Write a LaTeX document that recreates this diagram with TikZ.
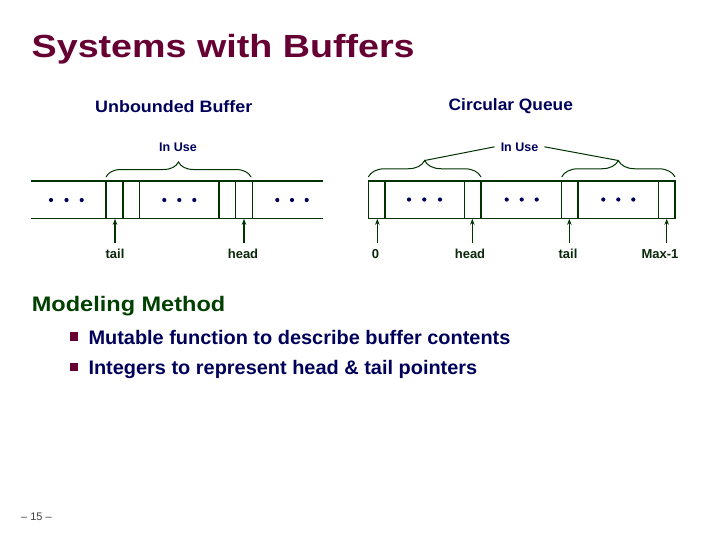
\documentclass[tikz,border=0pt]{standalone}
\usepackage{fontspec}
\usepackage{graphicx}
\setmainfont{Liberation Sans}
\usetikzlibrary{decorations.pathreplacing,arrows.meta}
\definecolor{titleC}{RGB}{102,0,51}
\definecolor{navyC}{RGB}{0,0,90}
\definecolor{greenT}{RGB}{0,64,0}
\definecolor{lineG}{RGB}{0,51,0}
\definecolor{labG}{RGB}{10,40,10}
\newcommand{\tx}[2]{\scalebox{#1}[1]{#2}}
\tikzset{
  txt/.style={inner sep=0pt, anchor=base west},
  buf/.style={draw=lineG, line width=1.1pt},
  thk/.style={draw=lineG, line width=2pt},
  brc/.style={draw=lineG, line width=1pt, decorate, decoration={brace, amplitude=#1}},
  ptr/.style={draw=lineG, line width=1.1pt, -{Stealth[length=6pt,width=4.5pt]}},
  lab/.style={inner sep=0pt, anchor=base, text=labG, font=\fontsize{13}{15}\selectfont\bfseries},
  use/.style={inner sep=6pt, text=navyC, font=\fontsize{12.5}{15}\selectfont\bfseries},
  dot/.style={fill=navyC, draw=none},
  bsq/.style={fill=titleC, draw=none}
}
\begin{document}
\begin{tikzpicture}[x=1pt,y=-1pt]
\fill[white] (0,0) rectangle (719,539);
\useasboundingbox (0,0) rectangle (719,539);

% titles
\node[txt, text=titleC, font=\fontsize{32}{36}\selectfont\bfseries] (title) at (31.5,57.7) {\tx{1.177}{Systems with Buffers}};
\node[txt, text=navyC, font=\fontsize{16.5}{19}\selectfont\bfseries] (ub) at (95,112.6) {\tx{1.085}{Unbounded Buffer}};
\node[txt, text=navyC, font=\fontsize{16.5}{19}\selectfont\bfseries] (cq) at (448.5,110.6) {\tx{1.05}{Circular Queue}};

% ---------- Unbounded buffer ----------
\draw[buf] (31,181) -- (323,181);
\draw[buf] (31,218.3) -- (323,218.3);
\foreach \x in {106,139.3,235.7,252.3} \draw[buf] (\x,181) -- (\x,218.3);
\foreach \x in {122.7,219.3} \draw[thk] (\x,181) -- (\x,218.3);
\foreach \x in {51,66.5,81.7,164.3,179.3,194.3,277.3,292,306.7} \fill[dot] (\x,200) circle (2.1);

\draw[brc=15pt] (106,177) -- (251,177);
\node[use, anchor=base, inner sep=0pt] (inuseL) at (178,151.5) {In Use};

\coordinate (tailP) at (115,218.8);
\coordinate (headP) at (244,218.8);
\node[lab] (tailL) at (115,258.3) {tail};
\node[lab] (headL) at (243,258.3) {head};
\draw[ptr] ([yshift=5.5pt]tailP |- tailL.north) -- (tailP);
\draw[ptr] ([yshift=5.5pt]headP |- headL.north) -- (headP);

% ---------- Circular queue ----------
\draw[buf] (368.3,181) rectangle (675,218.3);
\foreach \x in {464.3,481,561.7,658.3} \draw[buf] (\x,181) -- (\x,218.3);
\foreach \x in {385,577.7} \draw[thk] (\x,181) -- (\x,218.3);
\foreach \x in {409,424.3,440,506.7,521.7,536.7,603.3,618.3,633.3} \fill[dot] (\x,199.5) circle (2.1);

\draw[brc=16.5pt] (368.3,177) -- (481,177);
\draw[brc=16.5pt] (561.7,177) -- (675,177);
\coordinate (bt1) at (424.6,160.5);
\coordinate (bt2) at (618.3,160.5);
\node[use] (inuseR) at (519.5,146.8) {In Use};
\draw[draw=lineG, line width=1pt] (bt1) -- (inuseR.west);
\draw[draw=lineG, line width=1pt] (inuseR.east) -- (bt2);

\coordinate (p0) at (377.3,218.8);
\coordinate (pH) at (472.3,218.8);
\coordinate (pT) at (569.3,218.8);
\coordinate (pM) at (666.7,218.8);
\node[lab] (l0) at (375.5,258.3) {0};
\node[lab] (lH) at (470,258.3) {head};
\node[lab] (lT) at (568,258.3) {tail};
\node[lab] (lM) at (660,258.3) {Max-1};
\draw[ptr] ([yshift=5.5pt]p0 |- lH.north) -- (p0);
\draw[ptr] ([yshift=5.5pt]pH |- lH.north) -- (pH);
\draw[ptr] ([yshift=5.5pt]pT |- lH.north) -- (pT);
\draw[ptr] ([yshift=5.5pt]pM |- lH.north) -- (pM);

% ---------- Modeling method ----------
\node[txt, text=greenT, font=\fontsize{21}{24}\selectfont\bfseries] (mm) at (31.7,311.7) {\tx{1.12}{Modeling Method}};
\fill[bsq] (70,332.3) rectangle (78.3,340.7);
\fill[bsq] (70,362.5) rectangle (78.3,370.8);
\node[txt, text=navyC, font=\fontsize{19.6}{23}\selectfont\bfseries] (b1) at (88.3,344) {\tx{1.017}{Mutable function to describe buffer contents}};
\node[txt, text=navyC, font=\fontsize{19.6}{23}\selectfont\bfseries] (b2) at (88.3,374.3) {\tx{1.017}{Integers to represent head \& tail pointers}};

% page number
\node[txt, text=black!75, font=\fontsize{11}{13}\selectfont] (pg) at (21,520) {– 15 –};
\end{tikzpicture}
\end{document}
